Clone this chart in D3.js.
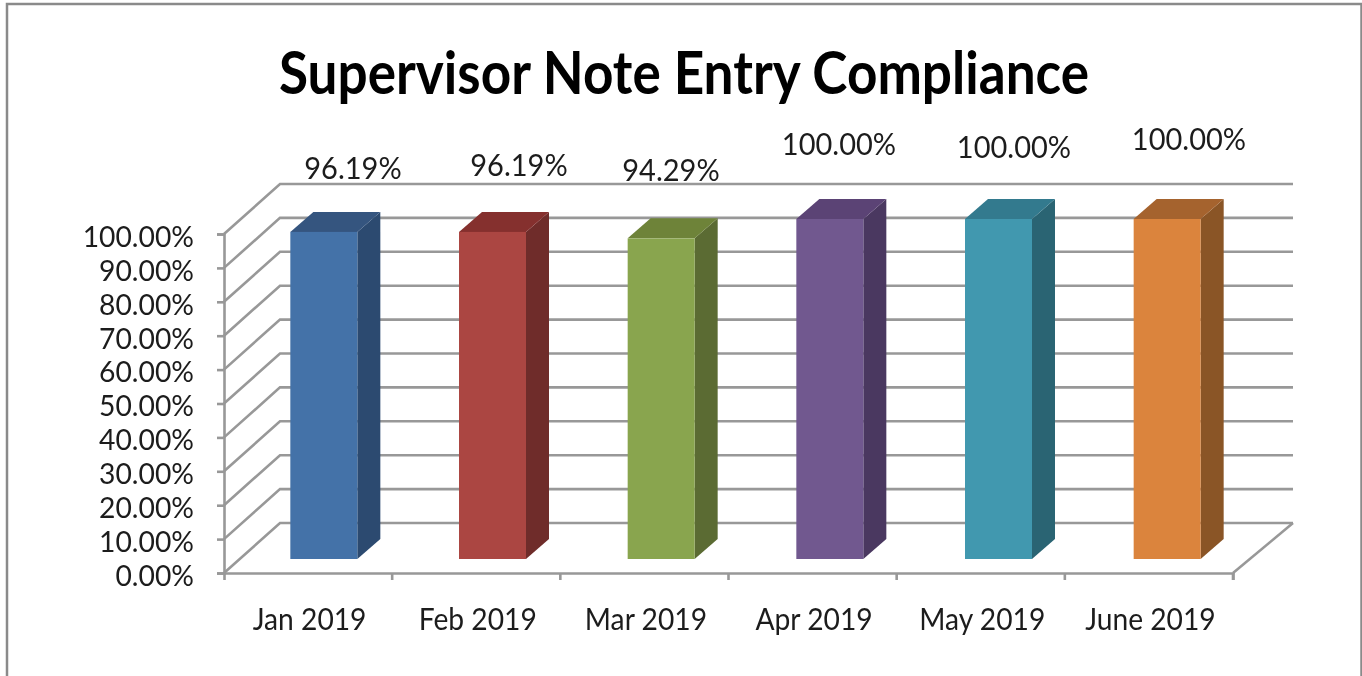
<!DOCTYPE html>
<html>
<head>
<meta charset="utf-8">
<script src="https://cdn.jsdelivr.net/npm/d3@7"></script>
<style>
html,body{margin:0;padding:0;background:#fff;overflow:hidden}
svg{display:block;filter:blur(0.5px)}
text{font-family:Lato,"Open Sans",sans-serif;fill:#1c1c1c}
</style>
</head>
<body>
<svg id="chart" width="1362" height="676"></svg>
<script>
const titleText = "Supervisor Note Entry Compliance";
const categories = ["Jan 2019","Feb 2019","Mar 2019","Apr 2019","May 2019","June 2019"];
const values = [96.19,96.19,94.29,100,100,100];
const valueLabels = ["96.19%","96.19%","94.29%","100.00%","100.00%","100.00%"];
const frontColors = ["#4472a8","#ab4642","#89a54e","#71588f","#4198af","#db843d"];
const sideColors  = ["#2c4a70","#6f2c2a","#5b6b33","#4a3860","#2a6473","#8a5526"];
const topColors   = ["#35557f","#85302e","#6e8339","#5b4375","#337a8e","#a5632e"];
const yTicks = [0,10,20,30,40,50,60,70,80,90,100];

const svg = d3.select("#chart");
const axisColor = "#989898";
const sw = 2.6;

// condense text horizontally: the original face is narrow and tall
function squeeze(sel, f){
  sel.each(function(){
    this.setAttribute("textLength", this.getComputedTextLength()*f);
    this.setAttribute("lengthAdjust","spacingAndGlyphs");
  });
}

// picture frame
svg.append("path").attr("d","M7,676V4H1361.5V676").attr("fill","none").attr("stroke","#8a8a8a").attr("stroke-width",2.5);

const wall = {dx:58, dy:-50};
const barDepth = {dx:23, dy:-20};
const barShift = {dx:15.5, dy:-14};
const x = d3.scaleBand().domain(categories).range([224,1233]);
const xBar = d3.scaleBand().domain(categories).range([224,1236]);
const y = d3.scaleLinear().domain([0,100]).range([573,234]);
const bw = 67;

// walls + gridlines
const grid = svg.append("g").attr("fill","none").attr("stroke",axisColor).attr("stroke-width",sw);
grid.selectAll("path").data(yTicks).join("path")
  .attr("d",d=>d3.line()([[224,y(d)],[224+wall.dx-2,y(d)+wall.dy],[1293,y(d)+wall.dy]]));
grid.append("path").attr("d",d3.line()([[1233,573],[1293,y(0)+wall.dy]]));

// axes
const yAxis = svg.append("g").attr("transform","translate(224,0)")
  .call(d3.axisLeft(y).tickValues(yTicks).tickSize(7).tickPadding(23).tickFormat(d=>d.toFixed(2)+"%"));
const xAxis = svg.append("g").attr("transform","translate(0,573)")
  .call(d3.axisBottom(x).tickSizeInner(0).tickSizeOuter(7).tickPadding(32));
xAxis.selectAll(".tick line").remove();
xAxis.selectAll(".tick").append("line")
  .attr("x1",x.bandwidth()/2).attr("x2",x.bandwidth()/2).attr("y1",0).attr("y2",7);
svg.selectAll(".domain,.tick line").attr("stroke",axisColor).attr("stroke-width",sw);
yAxis.selectAll("text").attr("font-size",28).attr("dy","0.44em").attr("fill","#1c1c1c").attr("font-family","Lato");
xAxis.selectAll("text").attr("font-size",31).attr("fill","#1c1c1c").attr("font-family","Lato");
xAxis.selectAll(".tick text").attr("dy","0.8em").attr("dx",1.5);
squeeze(yAxis.selectAll("text"),1.01);
squeeze(xAxis.selectAll("text"),0.91);

// bars
const bars = svg.append("g").selectAll("g").data(categories).join("g");
const bx = c=>xBar(c)+xBar.bandwidth()/2+barShift.dx-bw/2;
const by = v=>y(v)+barShift.dy-1;
const y0 = y(0)+barShift.dy;
bars.append("path").attr("fill",(d,i)=>sideColors[i])
  .attr("d",(d,i)=>{const l=bx(d)+bw,t=by(values[i]);return d3.line()([[l,t],[l+barDepth.dx,t+barDepth.dy],[l+barDepth.dx,y0+barDepth.dy],[l,y0]])+"Z";});
bars.append("path").attr("fill",(d,i)=>topColors[i])
  .attr("d",(d,i)=>{const l=bx(d),t=by(values[i]);return d3.line()([[l,t],[l+bw,t],[l+bw+barDepth.dx,t+barDepth.dy],[l+barDepth.dx,t+barDepth.dy]])+"Z";});
bars.append("rect").attr("fill",(d,i)=>frontColors[i])
  .attr("x",d=>bx(d)).attr("width",bw)
  .attr("y",(d,i)=>by(values[i])).attr("height",(d,i)=>y0-by(values[i]));

// data labels were hand-placed in the original chart
const labelCx = [353,519,671,839,1014,1189];
const labelBase = [179,176,181,155,158,150];
const dataLabels = bars.append("text").attr("text-anchor","middle").attr("font-size",31)
  .attr("x",(d,i)=>labelCx[i]).attr("y",(d,i)=>labelBase[i])
  .text((d,i)=>valueLabels[i]);
squeeze(dataLabels,0.936);

// title
const title = svg.append("text").attr("x",684).attr("y",94).attr("text-anchor","middle")
  .attr("font-size",60).attr("font-weight",700).style("fill","#000").text(titleText);
squeeze(title,0.885);
</script>
</body>
</html>
